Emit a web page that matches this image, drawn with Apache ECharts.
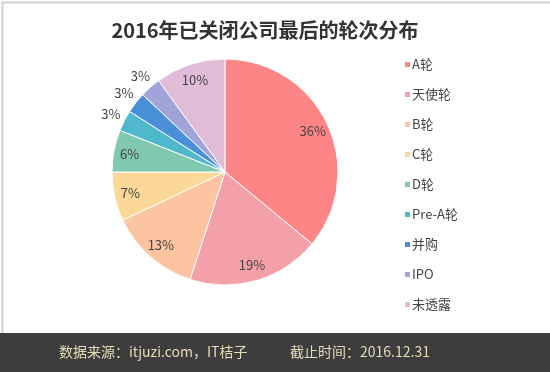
<!DOCTYPE html>
<html>
<head>
<meta charset="utf-8">
<script src="https://cdn.jsdelivr.net/npm/echarts@6/dist/echarts.min.js"></script>
<style>
html,body{margin:0;padding:0;background:#fff;}
#chart{width:550px;height:372px;}
</style>
</head>
<body>
<div id="chart"></div>
<script>
const categories = ['A轮','天使轮','B轮','C轮','D轮','Pre-A轮','并购','IPO','未透露'];
const values = [36, 19, 13, 7, 6, 3, 3, 3, 10];
const colors = ['#fd8585','#f4a0a8','#fcc4a0','#fcd898','#80c8b0','#4fb8cc','#4a90d8','#a0a4d8','#e0bcd8'];
const outerLabelNames = ['Pre-A轮','并购','IPO'];
const titleText = '2016年已关闭公司最后的轮次分布';
const footerSource = '数据来源：itjuzi.com，IT桔子';
const footerDate = '截止时间：2016.12.31';

const FONT = '"Noto Sans CJK SC", "Noto Sans", sans-serif';
const pieData = categories.map((n, i) => ({ name: n, value: values[i], itemStyle: { color: colors[i] } }));
const innerLabelData = categories.map((n, i) => ({
  name: n, value: values[i],
  label: { show: outerLabelNames.indexOf(n) < 0 }
}));
const outerLabelData = categories.map((n, i) => ({
  name: n, value: values[i],
  label: { show: outerLabelNames.indexOf(n) >= 0 }
}));

const chart = echarts.init(document.getElementById('chart'), null, { renderer: 'canvas' });
const labelStyle = { position: 'inside', formatter: '{c}%', color: '#444', fontSize: 13, fontFamily: FONT };
chart.setOption({
  animation: false,
  backgroundColor: '#ffffff',
  title: {
    text: titleText, left: 260, textAlign: 'center', top: 15,
    textStyle: { fontSize: 20, fontWeight: 'bold', color: '#333', fontFamily: FONT }
  },
  legend: {
    orient: 'vertical', left: 398, top: 53,
    data: categories, icon: 'rect', itemWidth: 7, itemHeight: 7, itemGap: 17,
    textStyle: { fontSize: 13, color: '#444', fontFamily: FONT, padding: [0, 0, 0, -4] }
  },
  graphic: [
    { type: 'rect', left: 0, top: 0, z: -10, shape: { width: 549, height: 371 }, style: { fill: 'none', stroke: '#cfcfcf', lineWidth: 2 } },
    { type: 'rect', left: 0, top: 333, shape: { width: 550, height: 39 }, style: { fill: '#3d3d3d' } },
    { type: 'text', left: 59, top: 345, style: { text: footerSource, fill: '#e6dcb8', font: '14px ' + FONT } },
    { type: 'text', left: 290, top: 345, style: { text: footerDate, fill: '#e6dcb8', font: '14px ' + FONT } }
  ],
  series: [
    {
      type: 'pie', center: [225, 172], radius: [0, 113], startAngle: 90,
      data: pieData, label: { show: false }, labelLine: { show: false },
      itemStyle: { borderColor: '#ffffff', borderWidth: 1 }
    },
    {
      type: 'pie', center: [225, 172], radius: [75, 113], startAngle: 90, silent: true,
      data: innerLabelData, itemStyle: { color: 'transparent' }, label: labelStyle, labelLine: { show: false },
      legendHoverLink: false
    },
    {
      type: 'pie', center: [225, 172], radius: [113, 137], startAngle: 90, silent: true,
      data: outerLabelData, itemStyle: { color: 'transparent' }, label: labelStyle, labelLine: { show: false },
      legendHoverLink: false
    }
  ]
});
</script>
</body>
</html>
